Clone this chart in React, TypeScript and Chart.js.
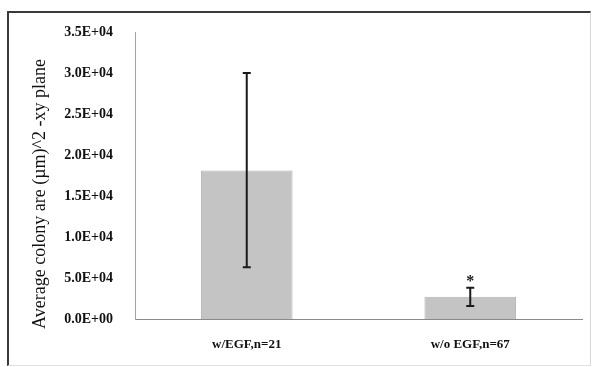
import React, { useEffect, useRef } from "react";
import { Chart, registerables } from "chart.js";

Chart.register(...registerables);

const categories = ["w/EGF,n=21", "w/o EGF,n=67"];
const meanValues = [18100, 2700];
const errorLow = [6300, 1600];
const errorHigh = [30000, 3800];
const significance = ["", "*"];
const tickValues = [0, 5000, 10000, 15000, 20000, 25000, 30000, 35000];
const tickLabels = ["0.0E+00", "5.0E+04", "1.0E+04", "1.5E+04", "2.0E+04", "2.5E+04", "3.0E+04", "3.5E+04"];
const yTitle = "Average colony are (\u00b5m)^2 -xy plane";

const FONT = "'Liberation Serif', 'Times New Roman', serif";

const overlayPlugin = {
  id: "overlay",
  afterDatasetsDraw(chart: any) {
    const ctx = chart.ctx;
    const x = chart.scales.x;
    const y = chart.scales.y;
    ctx.save();
    ctx.strokeStyle = "#1a1a1a";
    ctx.fillStyle = "#1a1a1a";
    ctx.lineWidth = 2;
    for (let i = 0; i < categories.length; i++) {
      const cx = x.getPixelForValue(i);
      const yLo = y.getPixelForValue(errorLow[i]);
      const yHi = y.getPixelForValue(errorHigh[i]);
      const cap = 4;
      ctx.beginPath();
      ctx.moveTo(cx, yLo);
      ctx.lineTo(cx, yHi);
      ctx.moveTo(cx - cap, yLo);
      ctx.lineTo(cx + cap, yLo);
      ctx.moveTo(cx - cap, yHi);
      ctx.lineTo(cx + cap, yHi);
      ctx.stroke();
      if (significance[i]) {
        ctx.font = "bold 16px " + FONT;
        ctx.textAlign = "center";
        ctx.textBaseline = "middle";
        ctx.fillText(significance[i], cx, yHi - 6);
      }
    }
    // y axis title
    ctx.translate(40, 194);
    ctx.rotate(-Math.PI / 2);
    ctx.font = "18px " + FONT;
    ctx.textAlign = "center";
    ctx.textBaseline = "middle";
    ctx.fillStyle = "#111";
    ctx.fillText(yTitle, 0, 0);
    ctx.restore();
  },
};

export default function App() {
  const ref = useRef<HTMLCanvasElement>(null);
  useEffect(() => {
    if (!ref.current) return;
    const chart = new Chart(ref.current, {
      type: "bar",
      data: {
        labels: categories,
        datasets: [
          {
            data: meanValues,
            backgroundColor: "#c4c4c4",
            borderColor: "#b4b4b4",
            borderWidth: 1,
            categoryPercentage: 1,
            barPercentage: 0.41,
          },
        ],
      },
      options: {
        animation: false,
        responsive: false,
        maintainAspectRatio: false,
        layout: { padding: { left: 27, right: 12, top: 32, bottom: 0 } },
        plugins: { legend: { display: false }, tooltip: { enabled: false } },
        scales: {
          x: {
            grid: { display: false, drawTicks: false },
            border: { display: true, color: "#8a8a8a", width: 1 },
            ticks: {
              padding: 18,
              color: "#111",
              font: { family: FONT, size: 13, weight: "bold" },
            },
            afterFit(scale: any) {
              scale.height = 48;
            },
          },
          y: {
            min: 0,
            max: 35000,
            afterBuildTicks(scale: any) {
              scale.ticks = tickValues.map((v) => ({ value: v }));
            },
            grid: { display: false, drawTicks: false },
            border: { display: true, color: "#a8a0a0", width: 1 },
            ticks: {
              padding: 22,
              color: "#111",
              font: { family: FONT, size: 14, weight: "bold" },
              callback(value: any) {
                const idx = tickValues.indexOf(Number(value));
                return idx >= 0 ? tickLabels[idx] : "";
              },
            },
            afterFit(scale: any) {
              scale.width = 108;
            },
          },
        },
      },
      plugins: [overlayPlugin],
    });
    return () => chart.destroy();
  }, []);
  return (
    <div style={{ position: "fixed", left: 0, top: 0, width: 594, height: 367, background: "#fff" }}>
      <canvas ref={ref} width={594} height={367} style={{ position: "absolute", left: 0, top: 0 }} />
      <div
        style={{
          position: "absolute",
          left: 7,
          top: 11,
          width: 581,
          height: 352,
          borderTop: "2px solid #3a3a3a",
          borderLeft: "2px solid #3a3a3a",
          borderRight: "1px solid #d8d8d8",
          borderBottom: "1px solid #e0e0e0",
          pointerEvents: "none",
        }}
      />
    </div>
  );
}
